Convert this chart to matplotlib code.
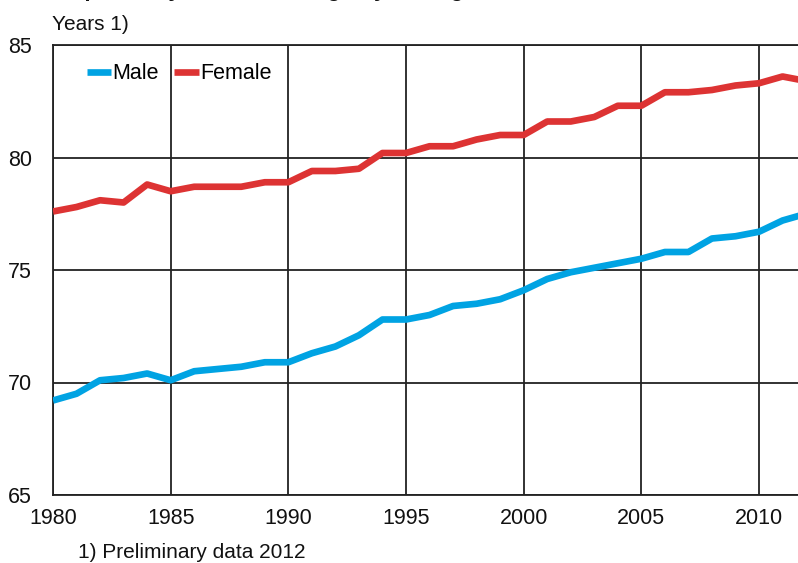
import matplotlib
matplotlib.use("Agg")
import matplotlib.pyplot as plt

years = list(range(1980, 2013))
male = [69.2, 69.5, 70.1, 70.2, 70.4, 70.1, 70.5, 70.6, 70.7, 70.9, 70.9,
        71.3, 71.6, 72.1, 72.8, 72.8, 73.0, 73.4, 73.5, 73.7, 74.1,
        74.6, 74.9, 75.1, 75.3, 75.5, 75.8, 75.8, 76.4, 76.5, 76.7,
        77.2, 77.5]
female = [77.6, 77.8, 78.1, 78.0, 78.8, 78.5, 78.7, 78.7, 78.7, 78.9, 78.9,
          79.4, 79.4, 79.5, 80.2, 80.2, 80.5, 80.5, 80.8, 81.0, 81.0,
          81.6, 81.6, 81.8, 82.3, 82.3, 82.9, 82.9, 83.0, 83.2, 83.3,
          83.6, 83.4]
series_labels = ["Male", "Female"]
x_ticks = [1980, 1985, 1990, 1995, 2000, 2005, 2010]
y_ticks = [65, 70, 75, 80, 85]
title = "Life expectancy at birth among boys and girls"
y_unit = "Years 1)"
footnote = "1) Preliminary data 2012"

plt.rcParams['font.family'] = ['Liberation Sans', 'DejaVu Sans']

fig = plt.figure(figsize=(7.98, 5.63), dpi=100)
ax = fig.add_axes([53/798, 1 - 495/563, 1 - 53/798, 450/563])

ax.plot(years, male, color='#00a3e3', lw=4.8, label=series_labels[0],
        solid_capstyle='butt', zorder=3)
ax.plot(years, female, color='#dd3333', lw=4.8, label=series_labels[1],
        solid_capstyle='butt', zorder=3)

ax.set_xlim(1980, 1980 + 745.5/23.55)
ax.set_ylim(65, 85)
ax.set_xticks(x_ticks)
ax.set_yticks(y_ticks)
ax.tick_params(length=0, labelsize=15.5, colors='#111111')
ax.tick_params(axis='x', pad=9)
ax.tick_params(axis='y', pad=15)
ax.grid(True, color='#222222', lw=1.3)
ax.set_axisbelow(True)
for s in ['right']:
    ax.spines[s].set_visible(False)
for s in ['left', 'bottom', 'top']:
    ax.spines[s].set_color('#222222')
    ax.spines[s].set_linewidth(1.3)

leg = ax.legend(loc='center left', bbox_to_anchor=(0.045, 0.936), ncol=2,
                frameon=False, fontsize=15.5, handlelength=1.15,
                handletextpad=0.05, columnspacing=0.7, borderpad=0,
                borderaxespad=0)

fig.text(52/798, 1 - 25/563, y_unit, fontsize=15, va='center', ha='left',
         color='#111111')
fig.text(78/798, 1 - 553/563, footnote, fontsize=15, va='center', ha='left',
         color='#111111')
fig.text(14/798, 1 + 4/563, title, fontsize=16, fontweight='bold',
         va='baseline', ha='left', color='#111111')

fig.savefig("out.png", dpi=100)
